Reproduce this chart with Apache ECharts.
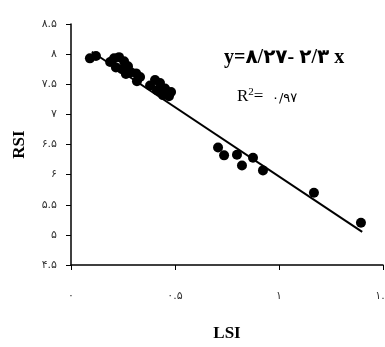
<!DOCTYPE html>
<html>
<head>
<meta charset="utf-8">
<script src="https://cdn.jsdelivr.net/npm/echarts@6/dist/echarts.min.js"></script>
<style>html,body{margin:0;padding:0;background:#fff;overflow:hidden;}#c{width:385px;height:347px;}</style>
</head>
<body>
<div id="c"></div>
<script>
var lsi = [0.091,0.120,0.188,0.207,0.231,0.255,0.216,0.245,0.274,0.264,0.288,0.313,0.332,0.317,0.380,0.404,0.428,0.413,0.452,0.442,0.471,0.481,0.707,0.736,0.798,0.822,0.875,0.923,1.168,1.394];
var rsi = [7.93,7.97,7.87,7.93,7.95,7.88,7.78,7.75,7.80,7.67,7.70,7.68,7.62,7.55,7.48,7.57,7.52,7.40,7.43,7.32,7.30,7.37,6.45,6.32,6.33,6.15,6.28,6.07,5.70,5.20];
var fitIntercept = 8.27;
var fitSlope = -2.3;
var fitRange = [0.1, 1.4];
var xTicks = [0, 0.5, 1, 1.5];
var xTickLabels = ['۰', '۰.۵', '۱', '۱.۵'];
var yTicks = [4.5, 5, 5.5, 6, 6.5, 7, 7.5, 8, 8.5];
var yTickLabels = ['۴.۵', '۵', '۵.۵', '۶', '۶.۵', '۷', '۷.۵', '۸', '۸.۵'];
var eqText = 'y=۸/۲۷- ۲/۳ x';
var r2Value = '۰/۹۷';

function lbl(ticks, labels) {
  return function (v) {
    for (var i = 0; i < ticks.length; i++) if (Math.abs(ticks[i] - v) < 1e-6) return labels[i];
    return '';
  };
}
var pts = lsi.map(function (x, i) { return [x, rsi[i]]; });
var fit = fitRange.map(function (x) { return [x, fitIntercept + fitSlope * x]; });

var chart = echarts.init(document.getElementById('c'), null, {renderer: 'canvas'});
chart.setOption({
  animation: false,
  grid: {left: 71, right: 2, top: 24, bottom: 82, containLabel: false, outerBoundsMode: 'none'},
  xAxis: {
    type: 'value', min: 0, max: 1.5, interval: 0.5,
    splitLine: {show: false},
    axisLine: {onZero: false, lineStyle: {color: '#000', width: 1.5}},
    axisTick: {show: true, length: 5, lineStyle: {color: '#000', width: 1}},
    axisLabel: {margin: 26, color: '#333', fontSize: 11, fontFamily: 'DejaVu Sans', formatter: lbl(xTicks, xTickLabels), showMaxLabel: true, hideOverlap: false},
    name: 'LSI', nameLocation: 'middle', nameGap: 60,
    nameTextStyle: {fontFamily: 'Liberation Serif', fontWeight: 'bold', fontSize: 17, color: '#000'}
  },
  yAxis: {
    type: 'value', min: 4.5, max: 8.5, interval: 0.5,
    splitLine: {show: false},
    axisLine: {onZero: false, lineStyle: {color: '#000', width: 1.5}},
    axisTick: {show: true, length: 5, lineStyle: {color: '#000', width: 1}},
    axisLabel: {margin: 14, color: '#333', fontSize: 11, fontFamily: 'DejaVu Sans', formatter: lbl(yTicks, yTickLabels)},
    name: 'RSI', nameLocation: 'middle', nameGap: 43, nameRotate: 90,
    nameTextStyle: {fontFamily: 'Liberation Serif', fontWeight: 'bold', fontSize: 17, color: '#000'}
  },
  series: [
    {type: 'line', data: fit, symbol: 'none', lineStyle: {color: '#000', width: 2}, z: 2},
    {type: 'scatter', data: pts, symbol: 'circle', symbolSize: 10, itemStyle: {color: '#000', opacity: 1}, z: 3}
  ],
  graphic: [
    {type: 'text', left: 224, top: 48, style: {text: eqText, fontFamily: 'Liberation Serif, DejaVu Sans', fontWeight: 'bold', fontSize: 20, fill: '#000'}},
    {type: 'text', left: 237, top: 87, style: {
      text: '{r|R}{s|2}{r|=  }{d|' + r2Value + '}',
      rich: {
        r: {fontFamily: 'Liberation Serif', fontSize: 17, fill: '#000', verticalAlign: 'bottom'},
        s: {fontFamily: 'Liberation Serif', fontSize: 11, fill: '#000', verticalAlign: 'top', padding: [0,0,7,0]},
        d: {fontFamily: 'DejaVu Sans', fontSize: 13, fill: '#000', verticalAlign: 'bottom'}
      }
    }}
  ]
});
</script>
</body>
</html>
